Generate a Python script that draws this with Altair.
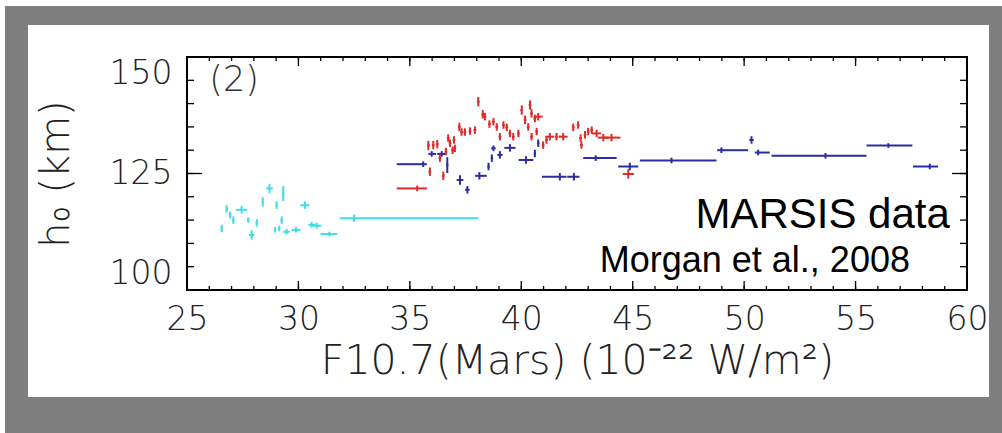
import altair as alt
import pandas as pd

# ---- plot geometry (plot area in px) ----
W, H = 780, 233
X_DOMAIN = [25, 60]
Y_DOMAIN = [100, 150]

# ---- h0 versus F10.7 at Mars, three data groups ----
# cyan group
cyan_x = [26.56, 26.78, 26.93, 27.08, 27.45, 27.75, 27.90, 28.13, 28.40, 28.70, 29.02,
          29.25, 29.32, 28.95, 29.14, 29.47, 29.89, 30.29, 30.59, 30.82, 31.39, 32.50]
cyan_y = [113.2, 117.4, 116.1, 115.0, 117.2, 115.0, 111.8, 114.4, 118.9, 121.8, 118.2,
          115.0, 120.7, 112.9, 113.2, 112.5, 112.9, 118.2, 114.0, 113.8, 112.0, 115.4]
cyan_xm = [0.05, 0.05, 0.05, 0.05, 0.25, 0.05, 0.12, 0.05, 0.05, 0.15, 0.05,
           0.05, 0.05, 0.05, 0.05, 0.15, 0.20, 0.20, 0.15, 0.20, 0.40, 0.64]
cyan_xp = [0.05, 0.05, 0.05, 0.05, 0.25, 0.05, 0.12, 0.05, 0.05, 0.15, 0.05,
           0.05, 0.05, 0.05, 0.05, 0.15, 0.20, 0.20, 0.15, 0.20, 0.35, 5.57]
cyan_ye = [0.8, 0.8, 0.7, 0.8, 0.8, 0.6, 1.0, 0.8, 1.0, 1.0, 0.8,
           0.8, 1.6, 0.6, 0.6, 0.6, 0.6, 0.8, 0.6, 0.6, 0.5, 0.8]

# blue group
blue_x = [35.60, 35.98, 36.43, 36.68, 37.25, 37.58, 38.12, 38.53, 38.68, 38.75, 39.04,
          39.49, 40.21, 40.61, 40.76, 41.73, 42.36, 43.34, 44.87, 46.74, 48.98, 50.33,
          50.63, 53.65, 56.47, 58.33]
blue_y = [127.0, 129.2, 129.2, 126.8, 123.6, 121.5, 124.5, 126.5, 128.3, 130.4, 129.0,
          130.5, 127.9, 129.3, 131.5, 124.3, 124.3, 128.3, 126.5, 127.8, 130.0, 132.2,
          129.5, 128.8, 131.0, 126.5]
blue_xm = [1.19, 0.15, 0.20, 0.05, 0.15, 0.10, 0.19, 0.05, 0.05, 0.10, 0.12,
           0.25, 0.33, 0.05, 0.05, 0.80, 0.30, 0.56, 0.52, 1.42, 0.19, 0.10,
           0.15, 2.42, 0.98, 0.75]
blue_xp = [0.16, 0.20, 0.15, 0.05, 0.15, 0.10, 0.33, 0.05, 0.05, 0.10, 0.12,
           0.25, 0.33, 0.05, 0.05, 0.30, 0.25, 0.94, 0.38, 2.02, 1.20, 0.10,
           0.52, 1.84, 1.08, 0.37]
blue_ye = [0.6, 0.6, 0.6, 1.7, 1.0, 0.8, 0.8, 0.8, 0.8, 0.6, 0.8,
           0.8, 0.8, 0.8, 0.8, 0.8, 0.8, 0.6, 0.8, 0.6, 0.6, 0.8,
           0.6, 0.6, 0.5, 0.6]

# red group
red_x = [35.33, 35.83, 36.05, 36.23, 35.90, 36.35, 36.50, 36.62, 36.72, 36.80, 36.92,
         37.02, 36.98, 37.22, 37.32, 37.47, 37.70, 37.92, 38.07, 38.27, 38.37, 38.57,
         38.75, 38.90, 39.04, 39.20, 39.35, 39.49, 39.64, 39.87, 40.02, 40.17, 40.31,
         40.39, 40.46, 40.61, 40.76, 40.69, 40.46, 40.98, 41.13, 41.28, 41.58, 41.88,
         42.33, 42.55, 42.66, 42.70, 42.86, 43.00, 43.16, 43.38, 43.68, 44.05, 44.80]
red_y = [121.8, 131.0, 131.1, 131.3, 125.4, 128.3, 124.5, 129.7, 132.6, 131.5, 130.0,
         130.4, 132.2, 135.0, 133.9, 133.9, 134.1, 134.3, 140.4, 137.7, 137.2, 135.6,
         136.1, 135.0, 132.9, 135.4, 134.9, 133.6, 132.9, 133.6, 138.6, 136.5, 135.0,
         139.7, 137.9, 136.8, 137.2, 134.0, 132.9, 131.1, 132.2, 132.9, 132.9, 132.9,
         134.9, 135.4, 132.6, 131.1, 133.3, 134.0, 134.3, 133.6, 132.7, 132.7, 124.9]
red_xm = [0.92, 0.06, 0.06, 0.06, 0.06, 0.06, 0.06, 0.06, 0.06, 0.06, 0.06,
          0.06, 0.06, 0.06, 0.06, 0.06, 0.06, 0.06, 0.06, 0.06, 0.06, 0.06,
          0.06, 0.06, 0.06, 0.06, 0.06, 0.06, 0.06, 0.06, 0.06, 0.06, 0.06,
          0.06, 0.06, 0.06, 0.20, 0.06, 0.06, 0.06, 0.06, 0.20, 0.06, 0.20,
          0.06, 0.06, 0.06, 0.06, 0.06, 0.06, 0.06, 0.20, 0.25, 0.40, 0.25]
red_xp = [0.43, 0.06, 0.06, 0.06, 0.06, 0.06, 0.06, 0.06, 0.06, 0.06, 0.06,
          0.06, 0.06, 0.06, 0.06, 0.06, 0.06, 0.06, 0.06, 0.06, 0.06, 0.06,
          0.06, 0.06, 0.06, 0.06, 0.06, 0.06, 0.06, 0.06, 0.06, 0.06, 0.06,
          0.06, 0.06, 0.06, 0.20, 0.06, 0.06, 0.06, 0.06, 0.20, 0.06, 0.20,
          0.06, 0.06, 0.06, 0.06, 0.06, 0.06, 0.06, 0.20, 0.25, 0.40, 0.25]
red_ye = [0.6, 1.0, 0.9, 0.9, 0.9, 0.8, 0.9, 0.8, 0.8, 0.8, 0.8,
          0.8, 0.8, 0.9, 0.8, 0.8, 0.8, 0.8, 1.0, 0.9, 0.8, 0.8,
          0.8, 0.8, 0.8, 0.8, 0.8, 0.8, 0.8, 0.8, 1.0, 0.9, 0.8,
          1.0, 0.9, 0.8, 0.8, 0.8, 0.8, 0.8, 0.8, 0.8, 0.8, 0.8,
          0.8, 0.8, 0.8, 0.8, 0.8, 0.8, 0.8, 0.8, 0.8, 0.8, 1.0]

SERIES = ["cyan", "red", "blue"]
COLORS = ["#3fdde3", "#e02a2a", "#2c2ca2"]

# axis tick values
x_major = [25, 30, 35, 40, 45, 50, 55, 60]
x_minor = list(range(25, 61))
y_major = [100, 125, 150]
y_minor = list(range(100, 151, 5))


def group(name, xs, ys, xm, xp, ye):
    return pd.DataFrame({
        "series": name,
        "x": xs, "y": ys,
        "xlo": [a - b for a, b in zip(xs, xm)],
        "xhi": [a + b for a, b in zip(xs, xp)],
        "ylo": [a - b for a, b in zip(ys, ye)],
        "yhi": [a + b for a, b in zip(ys, ye)],
    })


points = pd.concat([
    group("cyan", cyan_x, cyan_y, cyan_xm, cyan_xp, cyan_ye),
    group("blue", blue_x, blue_y, blue_xm, blue_xp, blue_ye),
    group("red", red_x, red_y, red_xm, red_xp, red_ye),
], ignore_index=True)

xs = alt.Scale(domain=X_DOMAIN, nice=False, zero=False)
ys = alt.Scale(domain=Y_DOMAIN, nice=False, zero=False)
color = alt.Color("series:N", scale=alt.Scale(domain=SERIES, range=COLORS), legend=None)

TICK_FONT = "DejaVu Sans"
TEXT_GREY = "#222222"
LIGHT = 200

one = pd.DataFrame({"k": [0]})

# page frame: grey border with a white panel behind the plot
grey = alt.Chart(one).mark_rect(color="#7f7f7f").encode(
    x=alt.value(-182), x2=alt.value(815), y=alt.value(-51), y2=alt.value(376))
panel = alt.Chart(one).mark_rect(color="white").encode(
    x=alt.value(-159), x2=alt.value(802), y=alt.value(-32), y2=alt.value(340))

# labelled axes (no ticks; ticks are drawn inside the frame below)
x_axis = alt.Axis(values=x_major, format="d", ticks=False, domain=False, grid=False,
                  labelFont=TICK_FONT, labelFontSize=33, labelColor=TEXT_GREY,
                  labelFontWeight=LIGHT, labelPadding=13, labelFlush=False,
                  title="F10.7(Mars)  (10⁻²² W/m²)", titleFont=TICK_FONT,
                  titleFontSize=41, titleFontWeight=LIGHT, titleColor=TEXT_GREY,
                  titlePadding=5, zindex=1)
y_axis = alt.Axis(values=y_major, format="d", ticks=False, domain=False, grid=False,
                  labelFont=TICK_FONT, labelFontSize=33, labelColor=TEXT_GREY,
                  labelFontWeight=LIGHT, labelPadding=15, labelFlush=True,
                  title="h₀ (km)", titleFont=TICK_FONT, titleFontSize=40,
                  titleFontWeight=LIGHT, titleColor=TEXT_GREY,
                  titlePadding=33, zindex=1)

base = alt.Chart(points)
hbars = base.mark_rule(strokeWidth=2).encode(
    x=alt.X("xlo:Q", scale=xs, axis=x_axis), x2="xhi:Q",
    y=alt.Y("y:Q", scale=ys, axis=y_axis), color=color)
vbars = base.mark_rule(strokeWidth=2).encode(
    x=alt.X("x:Q", scale=xs, axis=None),
    y=alt.Y("ylo:Q", scale=ys, axis=None), y2="yhi:Q", color=color)

# plot frame
frame = alt.Chart(one).mark_rect(fillOpacity=0, stroke="black", strokeWidth=2).encode(
    x=alt.value(0), x2=alt.value(W), y=alt.value(0), y2=alt.value(H))


def x_ticks(vals, length):
    c = alt.Chart(pd.DataFrame({"v": vals})).mark_rule(color="black", strokeWidth=1.3)
    xe = alt.X("v:Q", scale=xs, axis=None)
    return [c.encode(x=xe, y=alt.value(H), y2=alt.value(H - length)),
            c.encode(x=xe, y=alt.value(0), y2=alt.value(length))]


def y_ticks(vals, length):
    c = alt.Chart(pd.DataFrame({"v": vals})).mark_rule(color="black", strokeWidth=1.3)
    ye = alt.Y("v:Q", scale=ys, axis=None)
    return [c.encode(y=ye, x=alt.value(0), x2=alt.value(length)),
            c.encode(y=ye, x=alt.value(W), x2=alt.value(W - length))]


ticks = x_ticks(x_minor, 4) + x_ticks(x_major, 9) + y_ticks(y_minor, 7) + y_ticks(y_major, 15)

labels = pd.DataFrame({
    "x": [26.0, 59.23, 57.44],
    "y": [148.7, 113.3, 103.9],
    "t": ["(2)", "MARSIS data", "Morgan et al., 2008"],
})
panel_tag = alt.Chart(labels.iloc[[0]]).mark_text(
    font=TICK_FONT, fontSize=35, fontWeight=LIGHT, color="#333333", align="left",
    baseline="top").encode(
    x=alt.X("x:Q", scale=xs, axis=None), y=alt.Y("y:Q", scale=ys, axis=None), text="t:N")
big_note = alt.Chart(labels.iloc[[1]]).mark_text(
    font="Liberation Sans", fontSize=42, color="black", align="right",
    baseline="alphabetic").encode(
    x=alt.X("x:Q", scale=xs, axis=None), y=alt.Y("y:Q", scale=ys, axis=None), text="t:N")
small_note = alt.Chart(labels.iloc[[2]]).mark_text(
    font="Liberation Sans", fontSize=36, color="black", align="right",
    baseline="alphabetic").encode(
    x=alt.X("x:Q", scale=xs, axis=None), y=alt.Y("y:Q", scale=ys, axis=None), text="t:N")

chart = alt.layer(
    grey, panel, hbars, vbars, frame, *ticks, panel_tag, big_note, small_note
).resolve_axis(x="independent", y="independent").properties(
    width=W, height=H,
    autosize=alt.AutoSizeParams(type="none"),
    padding={"left": 187, "top": 57, "right": 35, "bottom": 143},
    background="white",
).configure_view(strokeWidth=0)

chart.save("out.html", embed_options={"renderer": "svg", "actions": False})
